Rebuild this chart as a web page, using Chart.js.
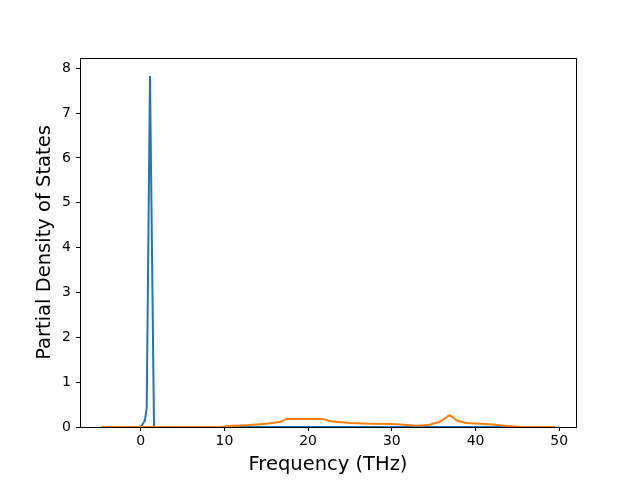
<!DOCTYPE html>
<html>
<head>
<meta charset="utf-8">
<script src="https://cdn.jsdelivr.net/npm/chart.js@4/dist/chart.umd.min.js"></script>
<style>
  body { margin: 0; background: #fff; }
</style>
</head>
<body>
<canvas id="pdosChart" width="640" height="480"></canvas>
<script>
// values
const blueFreq = [-4.7, 0.0, 0.16, 0.51, 0.72, 1.11, 1.59, 49.5];
const blueDos = [0, 0, 0.04, 0.15, 0.44, 7.83, 0, 0];

const orangeFreq = [-4.7, 9.5, 10.5, 12.5, 15.0, 16.6, 17.4, 21.8, 22.6, 25.0, 27.5, 30.0, 31.5, 33.0, 34.5, 35.8, 36.9, 37.8, 38.9, 41.7, 43.5, 45.3, 49.5];
const orangeDos = [0, 0, 0.02, 0.04, 0.075, 0.11, 0.18, 0.18, 0.13, 0.09, 0.075, 0.065, 0.05, 0.03, 0.05, 0.12, 0.27, 0.14, 0.09, 0.06, 0.03, 0.005, 0];

const xTicks = [0, 10, 20, 30, 40, 50];
const yTicks = [0, 1, 2, 3, 4, 5, 6, 7, 8];

const toPoints = (xs, ys) => xs.map((x, i) => ({ x: x, y: ys[i] }));

// box around the plot area, like matplotlib's spines
const framePlugin = {
  id: 'frame',
  afterDraw(chart) {
    const { ctx, chartArea } = chart;
    ctx.save();
    ctx.strokeStyle = '#000';
    ctx.lineWidth = 1;
    ctx.strokeRect(chartArea.left + 0.5, chartArea.top + 0.5,
      chartArea.right - chartArea.left, chartArea.bottom - chartArea.top);
    ctx.restore();
  }
};

const tickFont = { family: 'DejaVu Sans', size: 14 };
const titleFont = { family: 'DejaVu Sans', size: 19.5 };

new Chart(document.getElementById('pdosChart'), {
  type: 'line',
  data: {
    datasets: [
      {
        data: toPoints(blueFreq, blueDos),
        borderColor: '#1f77b4',
        borderWidth: 2,
        pointRadius: 0,
        tension: 0,
        order: 1
      },
      {
        data: toPoints(orangeFreq, orangeDos),
        borderColor: '#ff7f0e',
        borderWidth: 2,
        pointRadius: 0,
        tension: 0,
        order: 0 // orange sits on top of blue, as in matplotlib
      }
    ]
  },
  options: {
    responsive: false,
    animation: false,
    layout: { padding: { left: 0, top: 58, right: 64, bottom: 0 } },
    plugins: {
      legend: { display: false },
      tooltip: { enabled: false }
    },
    scales: {
      x: {
        type: 'linear',
        min: -7.25,
        max: 52.0,
        afterFit: (s) => { s.height = 53; },
        afterBuildTicks: (s) => { s.ticks = xTicks.map(v => ({ value: v })); },
        grid: { drawOnChartArea: false, drawTicks: true, tickLength: 4, color: '#000' },
        border: { display: false },
        ticks: { color: '#000', font: tickFont, padding: 2, maxRotation: 0 },
        title: { display: true, text: 'Frequency (THz)', color: '#000', font: titleFont, padding: { top: 0, bottom: 3 } }
      },
      y: {
        min: 0,
        max: 8.23,
        afterFit: (s) => { s.width = 80; },
        afterBuildTicks: (s) => { s.ticks = yTicks.map(v => ({ value: v })); },
        grid: { drawOnChartArea: false, drawTicks: true, tickLength: 4, color: '#000' },
        border: { display: false },
        ticks: { color: '#000', font: tickFont, padding: 5 },
        title: { display: true, text: 'Partial Density of States', color: '#000', font: titleFont, padding: { top: 33, bottom: 0 } }
      }
    }
  },
  plugins: [framePlugin]
});
</script>
</body>
</html>
